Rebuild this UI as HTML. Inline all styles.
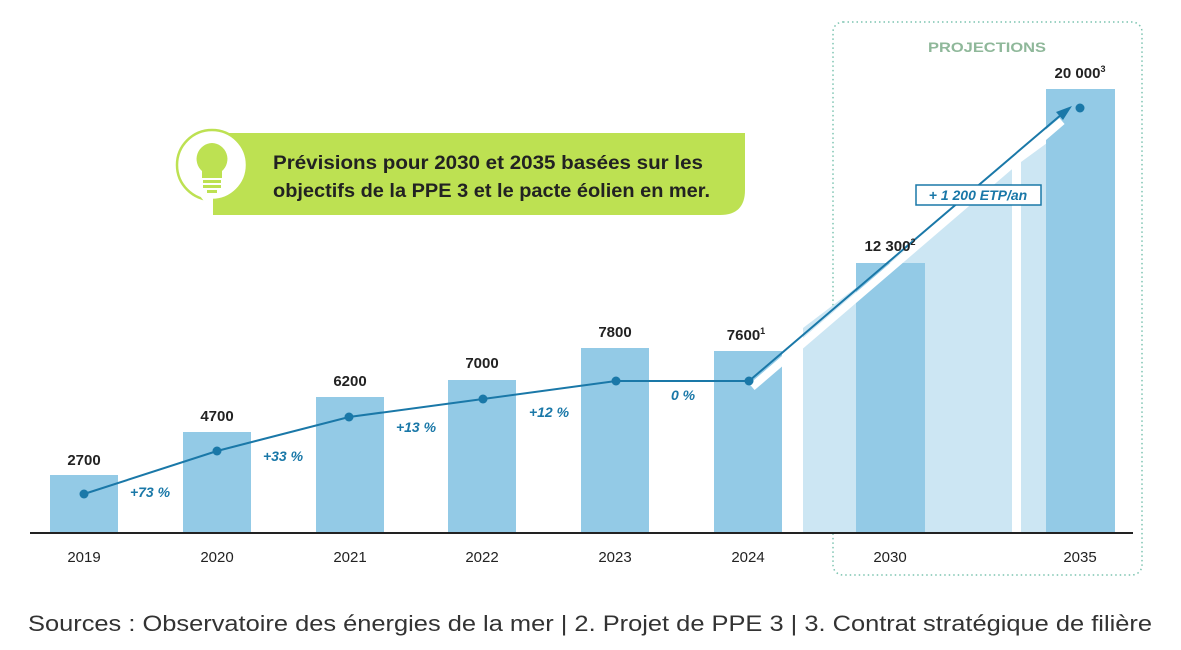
<!DOCTYPE html>
<html><head><meta charset="utf-8"><style>
html,body{margin:0;padding:0;background:#fff;width:1181px;height:650px;overflow:hidden}
svg{display:block}
text{font-family:"Liberation Sans",sans-serif}
</style></head><body>
<svg width="1181" height="650" viewBox="0 0 1181 650" xmlns="http://www.w3.org/2000/svg">
<rect x="833" y="22" width="309" height="553" rx="10" fill="none" stroke="#7cc4b0" stroke-width="1.5" stroke-dasharray="1.5 3"/>
<text x="987" y="52" text-anchor="middle" font-size="14" font-weight="bold" fill="#8fb89a" textLength="118" lengthAdjust="spacingAndGlyphs">PROJECTIONS</text>
<polygon points="803,533 803,328 1012,169 1012,533" fill="#cce6f3"/>
<polygon points="1021,533 1021,162 1047,143 1047,533" fill="#cce6f3"/>
<g fill="#93cae6">
<rect x="50" y="475" width="68" height="58"/>
<rect x="183" y="432" width="68" height="101"/>
<rect x="316" y="397" width="68" height="136"/>
<rect x="448" y="380" width="68" height="153"/>
<rect x="581" y="348" width="68" height="185"/>
<rect x="714" y="351" width="68" height="182"/>
<rect x="856" y="263" width="69" height="270"/>
<rect x="1046" y="89" width="69" height="444"/>
</g>
<line x1="30" y1="533" x2="1133" y2="533" stroke="#222" stroke-width="2"/>
<line x1="752" y1="387" x2="1062" y2="121" stroke="#fff" stroke-width="8"/>
<polyline points="84,494 217,451 349,417 483,399 616,381 749,381" fill="none" stroke="#1a78a8" stroke-width="2"/>
<line x1="749" y1="381" x2="1062" y2="114" stroke="#1a78a8" stroke-width="2"/>
<polygon points="1072,106 1056,112 1063,120" fill="#1a78a8"/>
<g fill="#1a78a8">
<circle cx="84" cy="494" r="4.5"/><circle cx="217" cy="451" r="4.5"/><circle cx="349" cy="417" r="4.5"/>
<circle cx="483" cy="399" r="4.5"/><circle cx="616" cy="381" r="4.5"/><circle cx="749" cy="381" r="4.5"/>
<circle cx="1080" cy="108" r="4.5"/>
</g>
<rect x="916" y="185" width="125" height="20" fill="#fff" stroke="#1a78a8" stroke-width="1.5"/>
<text x="978" y="200" text-anchor="middle" font-size="14" font-weight="bold" font-style="italic" fill="#1a78a8">+ 1 200 ETP/an</text>
<g font-size="14" font-weight="bold" font-style="italic" fill="#1a78a8" text-anchor="middle">
<text x="150" y="497">+73 %</text><text x="283" y="461">+33 %</text><text x="416" y="432">+13 %</text>
<text x="549" y="417">+12 %</text><text x="683" y="400">0 %</text>
</g>
<g font-size="15" font-weight="bold" fill="#222" text-anchor="middle">
<text x="84" y="465">2700</text><text x="217" y="421">4700</text><text x="350" y="386">6200</text>
<text x="482" y="368">7000</text><text x="615" y="337">7800</text><text x="746" y="340">7600<tspan font-size="9" dy="-6">1</tspan></text>
<text x="890" y="251">12 300<tspan font-size="9" dy="-6">2</tspan></text>
<text x="1080" y="78">20 000<tspan font-size="9" dy="-6">3</tspan></text>
</g>
<g font-size="15" fill="#222" text-anchor="middle">
<text x="84" y="562">2019</text><text x="217" y="562">2020</text><text x="350" y="562">2021</text>
<text x="482" y="562">2022</text><text x="615" y="562">2023</text><text x="748" y="562">2024</text>
<text x="890" y="562">2030</text><text x="1080" y="562">2035</text>
</g>
<path d="M213,133 H745 V190 Q745,215 720,215 H213 Z" fill="#bde152"/>
<circle cx="212" cy="165" r="35" fill="#fff" stroke="#bde152" stroke-width="2.5"/>
<path d="M200,196 L213,213 L213,198 Z" fill="#fff"/>
<path d="M212,143 a16,16 0 0 0 -10,28 v7 h20 v-7 a16,16 0 0 0 -10,-28z" fill="#bde152"/>
<rect x="203" y="180" width="18" height="3" fill="#bde152"/><rect x="203" y="185" width="18" height="3" fill="#bde152"/>
<rect x="207" y="190" width="10" height="3" fill="#bde152"/>
<text x="273" y="169" font-size="19" font-weight="bold" fill="#222" textLength="430" lengthAdjust="spacingAndGlyphs">Prévisions pour 2030 et 2035 basées sur les</text>
<text x="273" y="197" font-size="19" font-weight="bold" fill="#222" textLength="437" lengthAdjust="spacingAndGlyphs">objectifs de la PPE 3 et le pacte éolien en mer.</text>
<text x="28" y="631" font-size="22" fill="#333" textLength="1124" lengthAdjust="spacingAndGlyphs">Sources : Observatoire des énergies de la mer | 2. Projet de PPE 3 | 3. Contrat stratégique de filière</text>
</svg>
</body></html>
